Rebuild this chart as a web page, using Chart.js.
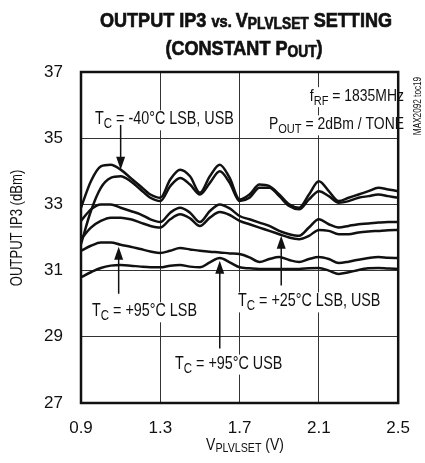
<!DOCTYPE html>
<html>
<head>
<meta charset="utf-8">
<script src="https://cdn.jsdelivr.net/npm/chart.js@4/dist/chart.umd.min.js"></script>
<style>
  html, body { margin: 0; padding: 0; background: #fff; }
  #wrap { width: 425px; height: 463px; }
</style>
</head>
<body>
<div id="wrap"><canvas id="chart" width="425" height="463"></canvas></div>
<script>
// V_PLVLSET sweep (V)
const vSet = [0.9, 0.95, 1.0, 1.05, 1.1, 1.15, 1.2, 1.25, 1.3, 1.35, 1.4, 1.45, 1.5, 1.55, 1.6, 1.65,
  1.7, 1.75, 1.8, 1.85, 1.9, 1.95, 2.0, 2.05, 2.1, 2.15, 2.2, 2.25, 2.3, 2.35, 2.4, 2.45, 2.5];

// output IP3 (dBm)
const ip3Cold1 = [32.9, 33.7, 34.15, 34.2, 34.05, 33.8, 33.55, 33.3, 33.2, 33.75, 34.05, 33.85, 33.35, 33.85, 34.2, 33.8,
  33.15, 33.3, 33.6, 33.55, 33.3, 33.0, 32.9, 33.3, 33.7, 33.4, 33.1, 33.2, 33.3, 33.4, 33.5, 33.45, 33.4];
const ip3Cold2 = [31.8, 32.8, 33.5, 33.8, 33.85, 33.7, 33.45, 33.2, 33.1, 33.55, 33.8, 33.6, 33.3, 33.65, 34.0, 33.65,
  33.1, 33.2, 33.5, 33.5, 33.25, 32.95, 32.85, 33.15, 33.4, 33.25, 33.05, 33.1, 33.2, 33.25, 33.3, 33.25, 33.2];
const ip3Room1 = [32.5, 32.85, 33.0, 33.0, 32.9, 32.8, 32.7, 32.55, 32.47, 32.75, 32.9, 32.75, 32.47, 32.8, 33.0, 32.88,
  32.65, 32.55, 32.45, 32.35, 32.2, 32.1, 32.05, 32.3, 32.55, 32.4, 32.3, 32.35, 32.4, 32.42, 32.45, 32.47, 32.47];
const ip3Room2 = [31.95, 32.3, 32.5, 32.6, 32.6, 32.55, 32.45, 32.35, 32.3, 32.55, 32.7, 32.58, 32.35, 32.6, 32.77, 32.68,
  32.5, 32.4, 32.3, 32.2, 32.1, 32.0, 31.95, 32.05, 32.23, 32.2, 32.1, 32.1, 32.15, 32.18, 32.2, 32.22, 32.23];
const ip3HotLsb = [31.6, 31.75, 31.85, 31.85, 31.78, 31.72, 31.65, 31.58, 31.53, 31.6, 31.68, 31.64, 31.6, 31.57, 31.55, 31.52,
  31.5, 31.4, 31.26, 31.35, 31.41, 31.32, 31.26, 31.35, 31.41, 31.35, 31.23, 31.27, 31.33, 31.38, 31.41, 31.39, 31.38];
const ip3HotUsb = [30.8, 30.95, 31.08, 31.15, 31.17, 31.15, 31.12, 31.1, 31.1, 31.15, 31.17, 31.12, 31.1, 31.25, 31.38, 31.25,
  31.1, 31.07, 31.05, 31.05, 31.05, 31.05, 31.05, 31.07, 31.08, 31.0, 30.9, 30.95, 31.02, 31.07, 31.08, 31.06, 31.05];

const xTicks = [0.9, 1.3, 1.7, 2.1, 2.5];
const yTicks = [27, 29, 31, 33, 35, 37];

const FAM = '"Liberation Sans Narrow", "Liberation Sans", Arial, sans-serif';
const BOLD_FAM = '"Liberation Sans", Arial, sans-serif';
const ctx = document.getElementById('chart').getContext('2d');

// squeeze factor in case the narrow face is missing
function hasFont(name) {
  ctx.font = '40px monospace';
  const a = ctx.measureText('MMMiii0.9').width;
  ctx.font = '40px "' + name + '", monospace';
  return ctx.measureText('MMMiii0.9').width !== a;
}
const NARROW = hasFont('Liberation Sans Narrow');
const SQ = NARROW ? 1 : 0.82;

function toPoints(arr) {
  return vSet.map((v, i) => ({ x: v, y: arr[i] }));
}

// parts: [text, size, dy, weight]
function richWidth(c, parts, fam) {
  let w = 0;
  parts.forEach(p => {
    c.font = (p[3] || 'normal') + ' ' + p[1] + 'px ' + fam;
    w += c.measureText(p[0]).width;
  });
  return w;
}

function drawRich(c, parts, x, y, align, opts) {
  opts = opts || {};
  const fam = opts.fam || FAM;
  const sq = opts.sq || SQ;
  c.save();
  c.translate(x, y);
  if (opts.rot) c.rotate(opts.rot);
  c.scale(sq, 1);
  const w = richWidth(c, parts, fam);
  let cx = align === 'center' ? -w / 2 : align === 'right' ? -w : 0;
  if (opts.bg) {
    c.fillStyle = '#fff';
    c.fillRect(cx - 3, -opts.bg[0], w + 6, opts.bg[0] + opts.bg[1]);
  }
  c.fillStyle = '#111';
  c.strokeStyle = '#111';
  c.lineWidth = opts.stroke || 0;
  c.textBaseline = 'alphabetic';
  c.textAlign = 'left';
  parts.forEach(p => {
    c.font = (p[3] || 'normal') + ' ' + p[1] + 'px ' + fam;
    c.fillText(p[0], cx, p[2] || 0);
    if (opts.stroke) c.strokeText(p[0], cx, p[2] || 0);
    cx += c.measureText(p[0]).width;
  });
  c.restore();
}

function arrow(c, x, y0, y1) {
  // line from y0 to tip y1
  const dir = y1 > y0 ? 1 : -1;
  c.save();
  c.strokeStyle = '#111';
  c.fillStyle = '#111';
  c.lineWidth = 1.5;
  c.beginPath();
  c.moveTo(x, y0);
  c.lineTo(x, y1 - dir * 10);
  c.stroke();
  c.beginPath();
  c.moveTo(x, y1);
  c.lineTo(x - 4.5, y1 - dir * 13);
  c.lineTo(x + 4.5, y1 - dir * 13);
  c.closePath();
  c.fill();
  c.restore();
}

const notes = {
  id: 'notes',
  beforeDatasetsDraw(chart) {
    const c = chart.ctx;
    const xs = chart.scales.x;
    const ys = chart.scales.y;
    const px = v => xs.getPixelForValue(v);
    const py = v => ys.getPixelForValue(v);
    const bg = [14, 6];

    drawRich(c, [['T', 17.5], ['C', 14, 4], [' = -40°C LSB, USB', 17.5]], 95, py(35.6) + 6, 'left', { bg: bg });
    arrow(c, px(1.1), py(35.4), py(34.05));

    drawRich(c, [['f', 17], ['RF', 13.5, 4], [' = 1835MHz', 17]], 404, py(36.3) + 6, 'right', { bg: bg });
    drawRich(c, [['P', 17], ['OUT', 13.5, 4], [' = 2dBm / TONE', 17]], 404, py(35.45) + 6, 'right', { bg: bg });

    drawRich(c, [['T', 17.5], ['C', 14, 4], [' = +95°C LSB', 17.5]], 92, py(29.8) + 6, 'left', { bg: bg });
    arrow(c, px(1.09), py(30.3), py(31.72));

    drawRich(c, [['T', 17.5], ['C', 14, 4], [' = +25°C LSB, USB', 17.5]], 238, py(30.1) + 6, 'left', { bg: bg });
    arrow(c, px(1.91), py(30.55), py(32.05));

    drawRich(c, [['T', 17.5], ['C', 14, 4], [' = +95°C USB', 17.5]], 175, py(28.22) + 6, 'left', { bg: bg });
    arrow(c, px(1.6), py(28.65), py(31.3));
  },
  afterDraw(chart) {
    const c = chart.ctx;
    const a = chart.chartArea;
    c.save();
    c.strokeStyle = '#111';
    c.lineWidth = 2.5;
    c.strokeRect(a.left, a.top, a.right - a.left, a.bottom - a.top);
    c.restore();

    // title
    const tOpts = { fam: BOLD_FAM, sq: 0.86, stroke: 0.7 };
    drawRich(c, [['OUTPUT IP3 ', 21, 0, 'bold'], ['vs. ', 17, 0, 'bold'], ['V', 21, 0, 'bold'],
      ['PLVLSET', 16, 2, 'bold'], [' SETTING', 21, 0, 'bold']], 246, 27, 'center', tOpts);
    drawRich(c, [['(CONSTANT P', 21, 0, 'bold'], ['OUT', 16, 2, 'bold'], [')', 21, 0, 'bold']], 244, 55, 'center', tOpts);

    // axis titles
    drawRich(c, [['V', 17], ['PLVLSET', 13, 2], [' (V)', 17]], 245, 450, 'center');
    drawRich(c, [['OUTPUT IP3 (dBm)', 16]], 22, 228, 'center', { rot: -Math.PI / 2 });

    // part code
    drawRich(c, [['MAX2092 toc19', 10]], 421, 106, 'center', { rot: -Math.PI / 2 });
  }
};

const lineStyle = {
  borderColor: '#111',
  borderWidth: 2.5,
  pointRadius: 0,
  fill: false,
  cubicInterpolationMode: 'monotone'
};

new Chart(ctx, {
  type: 'line',
  data: {
    datasets: [
      { label: 'TC = -40°C LSB', data: toPoints(ip3Cold1), ...lineStyle },
      { label: 'TC = -40°C USB', data: toPoints(ip3Cold2), ...lineStyle },
      { label: 'TC = +25°C LSB', data: toPoints(ip3Room1), ...lineStyle },
      { label: 'TC = +25°C USB', data: toPoints(ip3Room2), ...lineStyle },
      { label: 'TC = +95°C LSB', data: toPoints(ip3HotLsb), ...lineStyle },
      { label: 'TC = +95°C USB', data: toPoints(ip3HotUsb), ...lineStyle }
    ]
  },
  options: {
    responsive: false,
    animation: false,
    events: [],
    layout: { padding: { top: 72, right: 12, left: 0, bottom: 0 } },
    plugins: {
      legend: { display: false },
      tooltip: { enabled: false }
    },
    scales: {
      x: {
        type: 'linear',
        min: 0.9,
        max: 2.5,
        afterFit(scale) { scale.height = 60; },
        afterBuildTicks(scale) { scale.ticks = xTicks.map(v => ({ value: v })); },
        grid: { color: '#333', lineWidth: 1, drawTicks: false },
        border: { display: false },
        ticks: {
          padding: 15,
          color: '#111',
          font: { family: FAM, size: 17 },
          callback: v => v.toFixed(1)
        }
      },
      y: {
        min: 27,
        max: 37,
        afterFit(scale) { scale.width = 81; },
        afterBuildTicks(scale) { scale.ticks = yTicks.map(v => ({ value: v })); },
        grid: { color: '#333', lineWidth: 1, drawTicks: false },
        border: { display: false },
        ticks: {
          padding: 18,
          color: '#111',
          font: { family: FAM, size: 17 },
          callback: v => String(v)
        }
      }
    }
  },
  plugins: [notes]
});
</script>
</body>
</html>
